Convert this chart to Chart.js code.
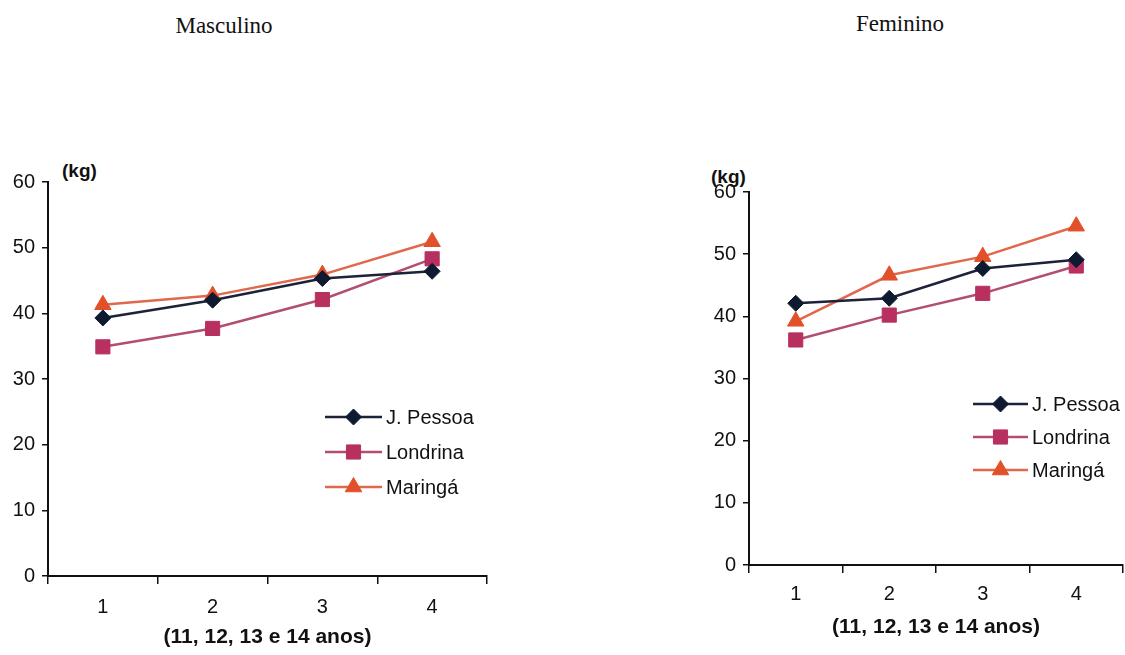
<!DOCTYPE html>
<html>
<head>
<meta charset="utf-8">
<script src="https://cdn.jsdelivr.net/npm/chart.js@4/dist/chart.umd.min.js"></script>
<style>
  html, body { margin: 0; background: #fff; width: 1125px; height: 655px; overflow: hidden; }
  body { position: relative; }
  .titulo { position: absolute; font-family: "Liberation Serif", "DejaVu Serif", serif; font-size: 23px; color: #111; transform: translateX(-50%); }
  .kg { position: absolute; font-family: "Liberation Sans", Arial, sans-serif; font-weight: bold; font-size: 19px; color: #111; }
</style>
</head>
<body>
<div class="titulo" style="left:224px; top:13px;">Masculino</div>
<div class="titulo" style="left:900px; top:11px;">Feminino</div>
<div class="kg" style="left:62px; top:160px;">(kg)</div>
<div class="kg" style="left:711px; top:166px;">(kg)</div>
<div style="position:absolute; left:0; top:150px; width:500px; height:505px;"><canvas id="graf_masc"></canvas></div>
<div style="position:absolute; left:690px; top:150px; width:435px; height:505px;"><canvas id="graf_fem"></canvas></div>
<script>
// datos
const categorias = ["1", "2", "3", "4"];
const series = ["J. Pessoa", "Londrina", "Maringá"];
const ticksY = [0, 10, 20, 30, 40, 50, 60];
const tituloX = "(11, 12, 13 e 14 anos)";

const mascPessoa = [39.3, 42.0, 45.3, 46.4];
const mascLondrina = [34.9, 37.7, 42.1, 48.3];
const mascMaringa = [41.3, 42.7, 45.9, 50.9];

const femPessoa = [42.1, 42.9, 47.7, 49.1];
const femLondrina = [36.2, 40.2, 43.7, 48.1];
const femMaringa = [39.2, 46.6, 49.6, 54.5];

// estilos
const estilos = [
  { linea: "#1c2238", punto: "#0e1a30", forma: "rectRot", radio: 8 },
  { linea: "#b24e70", punto: "#b8305f", forma: "rect", radio: 10 },
  { linea: "#e0684c", punto: "#e2502a", forma: "triangle", radio: 9.5 }
];

const fuente = "'Liberation Sans', Arial, sans-serif";

function armarDatasets (valores) {
  return valores.map(function (v, i) {
    return {
      label: series[i],
      data: v,
      borderColor: estilos[i].linea,
      borderWidth: 2.5,
      pointStyle: estilos[i].forma,
      pointRadius: estilos[i].radio,
      pointBackgroundColor: estilos[i].punto,
      pointBorderColor: estilos[i].punto,
      pointBorderWidth: 1,
      tension: 0,
      clip: false
    };
  });
}

// leyenda dibujada a mano (linea + marcador)
const leyendaPlugin = {
  id: "leyendaLinea",
  afterDatasetsDraw(chart, args, opts) {
    const ctx = chart.ctx;
    ctx.save();
    chart.data.datasets.forEach(function (ds, i) {
      const y = opts.y + i * opts.paso;
      ctx.strokeStyle = ds.borderColor;
      ctx.lineWidth = 2.5;
      ctx.beginPath();
      ctx.moveTo(opts.x, y);
      ctx.lineTo(opts.x + opts.largo, y);
      ctx.stroke();
      ctx.fillStyle = ds.pointBackgroundColor;
      ctx.strokeStyle = ds.pointBorderColor;
      ctx.lineWidth = 1;
      Chart.helpers.drawPoint(ctx, { pointStyle: ds.pointStyle, radius: ds.pointRadius, borderWidth: 1 }, opts.x + opts.largo / 2, y);
      ctx.fillStyle = "#111";
      ctx.font = "20px " + fuente;
      ctx.textBaseline = "middle";
      ctx.fillText(ds.label, opts.x + opts.largo + 4, y + 1);
    });
    ctx.restore();
  }
};

function crearGrafico (id, valores, conf) {
  const ctx = document.getElementById(id).getContext("2d");
  return new Chart(ctx, {
    type: "line",
    data: { labels: categorias, datasets: armarDatasets(valores) },
    plugins: [leyendaPlugin],
    options: {
      responsive: true,
      maintainAspectRatio: false,
      animation: false,
      layout: { autoPadding: false, padding: { top: conf.arriba, right: conf.derecha, left: 0, bottom: 0 } },
      plugins: {
        legend: { display: false },
        tooltip: { enabled: false },
        leyendaLinea: conf.leyenda
      },
      scales: {
        x: {
          offset: true,
          grid: { offset: true, drawOnChartArea: false, tickLength: 8, color: "#111", lineWidth: 1.5 },
          border: { color: "#111", width: 2 },
          ticks: { color: "#111", font: { family: fuente, size: 20 }, padding: conf.padTick },
          title: { display: true, text: tituloX, color: "#111", font: { family: fuente, size: 21, weight: "bold" }, padding: { top: 0, bottom: conf.padTitulo } },
          afterFit: function (s) { s.height = conf.altoX; }
        },
        y: {
          min: 0,
          max: 60,
          afterBuildTicks: function (s) { s.ticks = ticksY.map(function (v) { return { value: v }; }); },
          grid: { drawOnChartArea: false, tickLength: 6, color: "#111", lineWidth: 1.5 },
          border: { color: "#111", width: 2 },
          ticks: { color: "#111", font: { family: fuente, size: 20 }, padding: 7 },
          afterFit: function (s) { s.width = conf.anchoY; }
        }
      }
    }
  });
}

crearGrafico("graf_masc", [mascPessoa, mascLondrina, mascMaringa], {
  arriba: 32, derecha: 13, anchoY: 48, altoX: 79, padTick: 11, padTitulo: 5,
  leyenda: { x: 325, y: 267, paso: 35, largo: 57 }
});

crearGrafico("graf_fem", [femPessoa, femLondrina, femMaringa], {
  arriba: 42, derecha: 2, anchoY: 59, altoX: 90, padTick: 9, padTitulo: 15,
  leyenda: { x: 283, y: 254, paso: 33, largo: 55 }
});
</script>
</body>
</html>
